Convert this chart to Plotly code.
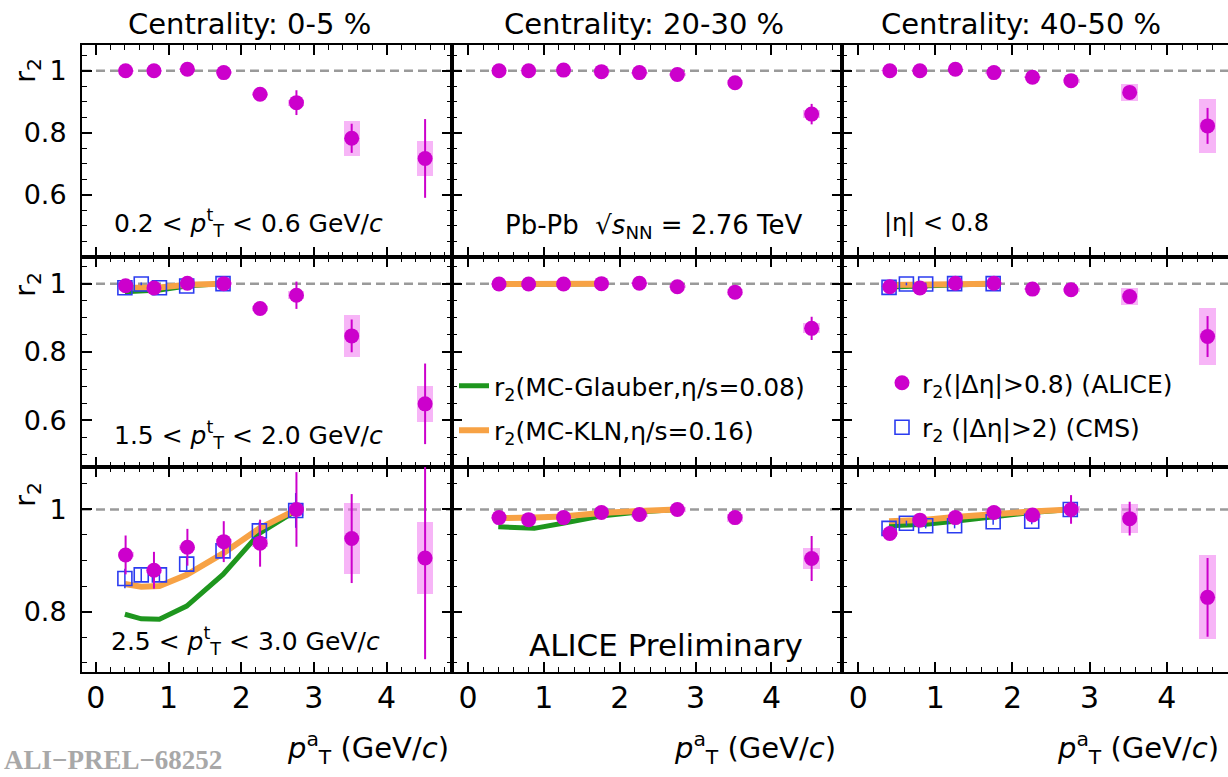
import plotly.graph_objects as go
from plotly.subplots import make_subplots

W, H = 1228, 777
FONT = "DejaVu Sans, Liberation Sans, Arial, sans-serif"
MAGENTA = "#CC00CC"
SYS_COLOR = "rgba(240,120,240,0.55)"
CMS_BLUE = "#2B3CF0"
GREEN = "#1E961E"
ORANGE = "#F7A245"

# ---------------- data ----------------
ALICE_PT = [0.41, 0.80, 1.26, 1.76, 2.26, 2.76, 3.52, 4.53]
CMS_PT = [0.40, 0.625, 0.875, 1.25, 1.75, 2.25, 2.75]
MODEL_PT = [0.40, 0.625, 0.875, 1.25, 1.75, 2.25, 2.75]

CENTRALITY = ["Centrality: 0-5 %", "Centrality: 20-30 %", "Centrality: 40-50 %"]
TRIGGER = ["0.2 < <i>p</i><sup>t</sup><sub>T</sub> < 0.6 GeV/<i>c</i>",
           "1.5 < <i>p</i><sup>t</sup><sub>T</sub> < 2.0 GeV/<i>c</i>",
           "2.5 < <i>p</i><sup>t</sup><sub>T</sub> < 3.0 GeV/<i>c</i>"]
X_TICKS = [0, 1, 2, 3, 4]
Y_TICKS_R1 = [0.6, 0.8, 1.0]
Y_TICKS_R2 = [0.6, 0.8, 1.0]
Y_TICKS_R3 = [0.8, 1.0]

# row 1 : 0.2 < pTt < 0.6
alice_r1c1 = [1.000, 1.000, 1.005, 0.994, 0.924, 0.897, 0.782, 0.717]
stat_r1c1 = [0.005, 0.005, 0.006, 0.008, 0.012, 0.040, 0.047, 0.127]
sys_r1c1 = [0.003, 0.003, 0.003, 0.004, 0.006, 0.010, 0.056, 0.057]
alice_r1c2 = [1.000, 1.000, 1.002, 0.997, 0.994, 0.988, 0.961, 0.860]
stat_r1c2 = [0.003, 0.003, 0.003, 0.004, 0.005, 0.006, 0.010, 0.033]
sys_r1c2 = [0.002, 0.002, 0.002, 0.003, 0.003, 0.004, 0.008, 0.012]
alice_r1c3 = [1.000, 1.000, 1.005, 0.994, 0.979, 0.968, 0.930, 0.822]
stat_r1c3 = [0.003, 0.003, 0.004, 0.005, 0.006, 0.008, 0.012, 0.058]
sys_r1c3 = [0.002, 0.002, 0.002, 0.003, 0.004, 0.006, 0.027, 0.086]

# row 2 : 1.5 < pTt < 2.0
alice_r2c1 = [0.994, 0.987, 1.001, 1.000, 0.927, 0.966, 0.847, 0.648]
stat_r2c1 = [0.004, 0.005, 0.006, 0.008, 0.015, 0.040, 0.048, 0.118]
sys_r2c1 = [0.003, 0.003, 0.003, 0.004, 0.008, 0.012, 0.062, 0.052]
alice_r2c2 = [0.999, 0.999, 0.999, 1.000, 1.001, 0.991, 0.975, 0.869]
stat_r2c2 = [0.002, 0.002, 0.002, 0.003, 0.004, 0.006, 0.010, 0.034]
sys_r2c2 = [0.002, 0.002, 0.002, 0.002, 0.003, 0.004, 0.008, 0.015]
alice_r2c3 = [0.991, 0.987, 1.001, 1.001, 0.984, 0.982, 0.962, 0.845]
stat_r2c3 = [0.003, 0.003, 0.003, 0.004, 0.006, 0.008, 0.012, 0.060]
sys_r2c3 = [0.002, 0.002, 0.002, 0.003, 0.004, 0.006, 0.024, 0.084]
cms_r2c1 = [0.988, 0.999, 0.988, 0.993, 1.000]
cms_r2c3 = [0.989, 0.999, 0.999, 1.000, 1.000]
glauber_r2c1 = [0.976, 0.978, 0.981, 0.993, 1.000]
kln_r2c1 = [0.988, 0.988, 0.989, 0.997, 1.000]
glauber_r2c2 = [0.997, 0.997, 0.997, 0.998, 1.000]
kln_r2c2 = [0.999, 0.999, 0.999, 0.999, 1.000]
glauber_r2c3 = [0.990, 0.992, 0.994, 0.997, 1.000]
kln_r2c3 = [0.996, 0.997, 0.998, 0.999, 1.000]

# row 3 : 2.5 < pTt < 3.0
alice_r3c1 = [0.911, 0.881, 0.926, 0.937, 0.934, 1.000, 0.943, 0.905]
stat_r3c1 = [0.038, 0.036, 0.036, 0.040, 0.046, 0.073, 0.087, 0.198]
sys_r3c1 = [0.005, 0.005, 0.005, 0.006, 0.008, 0.012, 0.069, 0.071]
alice_r3c2 = [0.984, 0.980, 0.984, 0.994, 0.990, 1.000, 0.984, 0.904]
stat_r3c2 = [0.004, 0.004, 0.005, 0.006, 0.007, 0.010, 0.012, 0.044]
sys_r3c2 = [0.002, 0.002, 0.003, 0.003, 0.004, 0.005, 0.008, 0.020]
alice_r3c3 = [0.953, 0.979, 0.984, 0.994, 0.989, 1.000, 0.982, 0.828]
stat_r3c3 = [0.006, 0.006, 0.007, 0.008, 0.010, 0.028, 0.033, 0.077]
sys_r3c3 = [0.003, 0.003, 0.003, 0.004, 0.005, 0.006, 0.029, 0.082]
cms_r3c1 = [0.865, 0.872, 0.872, 0.893, 0.919, 0.958, 0.998]
cms_stat_r3c1 = [0.019, 0.012, 0.012, 0.012, 0.014, 0.018, 0.034]
cms_r3c3 = [0.963, 0.973, 0.968, 0.968, 0.976, 0.977, 1.000]
cms_stat_r3c3 = [0.005, 0.005, 0.005, 0.005, 0.006, 0.006, 0.010]
glauber_r3c1 = [0.795, 0.786, 0.785, 0.811, 0.873, 0.953, 0.997]
kln_r3c1 = [0.854, 0.849, 0.850, 0.872, 0.914, 0.963, 0.999]
glauber_r3c2 = [0.966, 0.964, 0.963, 0.973, 0.987, 0.995, 1.000]
kln_r3c2 = [0.983, 0.983, 0.984, 0.986, 0.993, 0.997, 1.000]
glauber_r3c3 = [0.968, 0.969, 0.971, 0.977, 0.986, 0.994, 1.000]
kln_r3c3 = [0.977, 0.978, 0.980, 0.985, 0.991, 0.996, 1.000]

panels = {
    (1, 1): dict(a=alice_r1c1, st=stat_r1c1, sy=sys_r1c1),
    (1, 2): dict(a=alice_r1c2, st=stat_r1c2, sy=sys_r1c2),
    (1, 3): dict(a=alice_r1c3, st=stat_r1c3, sy=sys_r1c3),
    (2, 1): dict(a=alice_r2c1, st=stat_r2c1, sy=sys_r2c1, cms=cms_r2c1,
                 gl=glauber_r2c1, kl=kln_r2c1),
    (2, 2): dict(a=alice_r2c2, st=stat_r2c2, sy=sys_r2c2, gl=glauber_r2c2, kl=kln_r2c2),
    (2, 3): dict(a=alice_r2c3, st=stat_r2c3, sy=sys_r2c3, cms=cms_r2c3,
                 gl=glauber_r2c3, kl=kln_r2c3),
    (3, 1): dict(a=alice_r3c1, st=stat_r3c1, sy=sys_r3c1, cms=cms_r3c1, cst=cms_stat_r3c1,
                 gl=glauber_r3c1, kl=kln_r3c1),
    (3, 2): dict(a=alice_r3c2, st=stat_r3c2, sy=sys_r3c2, gl=glauber_r3c2, kl=kln_r3c2),
    (3, 3): dict(a=alice_r3c3, st=stat_r3c3, sy=sys_r3c3, cms=cms_r3c3, cst=cms_stat_r3c3,
                 gl=glauber_r3c3, kl=kln_r3c3),
}

# ---------------- layout geometry (pixels) ----------------
COL_PX = [(82, 452), (452, 842), (842, 1228)]
ROW_PX = [(45, 257), (257, 467), (467, 672)]
X_RANGES = [(-0.19, 4.9), (-0.21, 4.93), (-0.21, 4.795)]
Y_RANGES = [(0.399, 1.083), (0.463, 1.078), (0.682, 1.083)]
Y_TICKS = [Y_TICKS_R1, Y_TICKS_R2, Y_TICKS_R3]


def px_x(p):
    return p / W


def px_y(p):
    return 1 - p / H


fig = make_subplots(rows=3, cols=3, horizontal_spacing=0, vertical_spacing=0)

shown = set()
for (r, c), d in panels.items():
    n = (r - 1) * 3 + c
    a, st, sy = d["a"], d["st"], d["sy"]
    # systematic boxes
    fig.add_trace(go.Bar(x=ALICE_PT, y=[2 * s for s in sy], base=[v - s for v, s in zip(a, sy)],
                         width=0.22, marker=dict(color=SYS_COLOR, line_width=0),
                         showlegend=False, hoverinfo="skip"), row=r, col=c)
    if "gl" in d:
        m = len(d["gl"])
        fig.add_trace(go.Scatter(x=MODEL_PT[:m], y=d["gl"], mode="lines",
                                 line=dict(color=GREEN, width=5),
                                 name="r<sub>2</sub>(MC-Glauber,η/s=0.08)",
                                 legend="legend", legendgroup="gl", legendrank=1,
                                 showlegend="gl" not in shown), row=r, col=c)
        shown.add("gl")
        fig.add_trace(go.Scatter(x=MODEL_PT[:m], y=d["kl"], mode="lines",
                                 line=dict(color=ORANGE, width=6),
                                 name="r<sub>2</sub>(MC-KLN,η/s=0.16)",
                                 legend="legend", legendgroup="kl", legendrank=2,
                                 showlegend="kl" not in shown), row=r, col=c)
        shown.add("kl")
    if "cms" in d:
        m = len(d["cms"])
        err = d.get("cst", [0.004] * m)
        fig.add_trace(go.Scatter(x=CMS_PT[:m], y=d["cms"], mode="markers",
                                 marker=dict(symbol="square-open", size=14, color=CMS_BLUE,
                                             line=dict(width=1.6, color=CMS_BLUE)),
                                 error_y=dict(type="data", array=err, color=CMS_BLUE,
                                              thickness=1.5, width=0),
                                 name="r<sub>2</sub> (|Δη|>2) (CMS)",
                                 legend="legend2", legendgroup="cms", legendrank=2,
                                 showlegend="cms" not in shown), row=r, col=c)
        shown.add("cms")
    fig.add_trace(go.Scatter(x=ALICE_PT, y=a, mode="markers",
                             marker=dict(symbol="circle", size=15, color=MAGENTA),
                             error_y=dict(type="data", array=st, color=MAGENTA,
                                          thickness=2, width=0),
                             name="r<sub>2</sub>(|Δη|>0.8) (ALICE)",
                             legend="legend2", legendgroup="alice", legendrank=1,
                             showlegend="alice" not in shown), row=r, col=c)
    shown.add("alice")

    xs = "" if n == 1 else str(n)
    ax_common = dict(showgrid=False, zeroline=False, showline=True, linewidth=2,
                     linecolor="black", ticks="inside", tickcolor="black",
                     tickwidth=1.5, ticklen=10)
    fig.update_layout({
        f"xaxis{xs}": dict(**ax_common, domain=[px_x(COL_PX[c - 1][0]), px_x(COL_PX[c - 1][1])],
                           range=list(X_RANGES[c - 1]), tickvals=X_TICKS,
                           ticktext=[str(t) for t in X_TICKS], mirror="ticks",
                           minor=dict(dtick=0.2, tick0=0, ticklen=5, tickwidth=1.2,
                                      ticks="inside", tickcolor="black"),
                           showticklabels=(r == 3),
                           tickfont=dict(family=FONT, size=30, color="black"),
                           ticklabelstandoff=-2),
        f"yaxis{xs}": dict(**ax_common, domain=[px_y(ROW_PX[r - 1][1]), px_y(ROW_PX[r - 1][0])],
                           range=list(Y_RANGES[r - 1]), tickvals=Y_TICKS[r - 1],
                           ticktext=[("1" if t == 1.0 else f"{t:.1f}") for t in Y_TICKS[r - 1]],
                           mirror=("ticks" if c < 3 else False),
                           minor=dict(dtick=0.05, tick0=0, ticklen=5, tickwidth=1.2,
                                      ticks="inside", tickcolor="black"),
                           showticklabels=(c == 1),
                           tickfont=dict(family=FONT, size=27, color="black"),
                           ticklabelstandoff=8),
    })
    # reference line at r2 = 1
    fig.add_shape(type="line", xref=f"x{xs} domain", yref=f"y{xs}", x0=0, x1=1, y0=1, y1=1,
                  line=dict(color="#9A9A9A", width=2.5, dash="9px,5px"), layer="below")

annos = []
title_x = [249, 644, 1021]
for i, t in enumerate(CENTRALITY):
    annos.append(dict(text=t, x=px_x(title_x[i]), y=px_y(24), xanchor="center", yanchor="middle",
                      font=dict(size=29)))
trig_pos = [(112, 223), (112, 435), (109, 641)]
for i, t in enumerate(TRIGGER):
    annos.append(dict(text=t, x=px_x(trig_pos[i][0]), y=px_y(trig_pos[i][1]), xanchor="left",
                      yanchor="middle", font=dict(size=25)))
annos.append(dict(text="Pb-Pb  √<i>s</i><sub>NN</sub> = 2.76 TeV", x=px_x(503), y=px_y(226),
                  xanchor="left", yanchor="middle", font=dict(size=26)))
annos.append(dict(text="|η| < 0.8", x=px_x(882), y=px_y(223), xanchor="left", yanchor="middle",
                  font=dict(size=24)))
annos.append(dict(text="ALICE Preliminary", x=px_x(527), y=px_y(645), xanchor="left",
                  yanchor="middle", font=dict(size=31)))
for xr in [451, 838, 1221]:
    annos.append(dict(text="<i>p</i><sup>a</sup><sub>T</sub> (GeV/<i>c</i>)", x=px_x(xr),
                      y=px_y(748), xanchor="right", yanchor="middle", font=dict(size=29)))
for yr in [71, 285, 495]:
    annos.append(dict(text="r<sub>2</sub>", x=px_x(27), y=px_y(yr), xanchor="center",
                      yanchor="middle", textangle=-90, font=dict(size=29)))
annos.append(dict(text="<b>ALI−PREL−68252</b>", x=px_x(2), y=px_y(760), xanchor="left",
                  yanchor="middle",
                  font=dict(size=27, family="Liberation Serif, Times New Roman, serif",
                            color="#A8A8A8")))
for a_ in annos:
    a_.update(xref="paper", yref="paper", showarrow=False)
    a_.setdefault("font", {})
    a_["font"].setdefault("family", FONT)
    a_["font"].setdefault("color", "black")

fig.update_layout(
    width=W, height=H, autosize=False,
    margin=dict(l=0, r=0, t=0, b=0),
    paper_bgcolor="white", plot_bgcolor="white",
    barmode="overlay", bargap=0,
    annotations=annos,
    font=dict(family=FONT, color="black"),
    legend=dict(x=px_x(454), y=px_y(363), xanchor="left", yanchor="top",
                bgcolor="rgba(0,0,0,0)", font=dict(size=25, family=FONT),
                tracegroupgap=9, itemwidth=30),
    legend2=dict(x=px_x(882), y=px_y(360), xanchor="left", yanchor="top",
                 bgcolor="rgba(0,0,0,0)", font=dict(size=25, family=FONT),
                 tracegroupgap=9, itemwidth=30),
)

fig.write_html("out.html")
